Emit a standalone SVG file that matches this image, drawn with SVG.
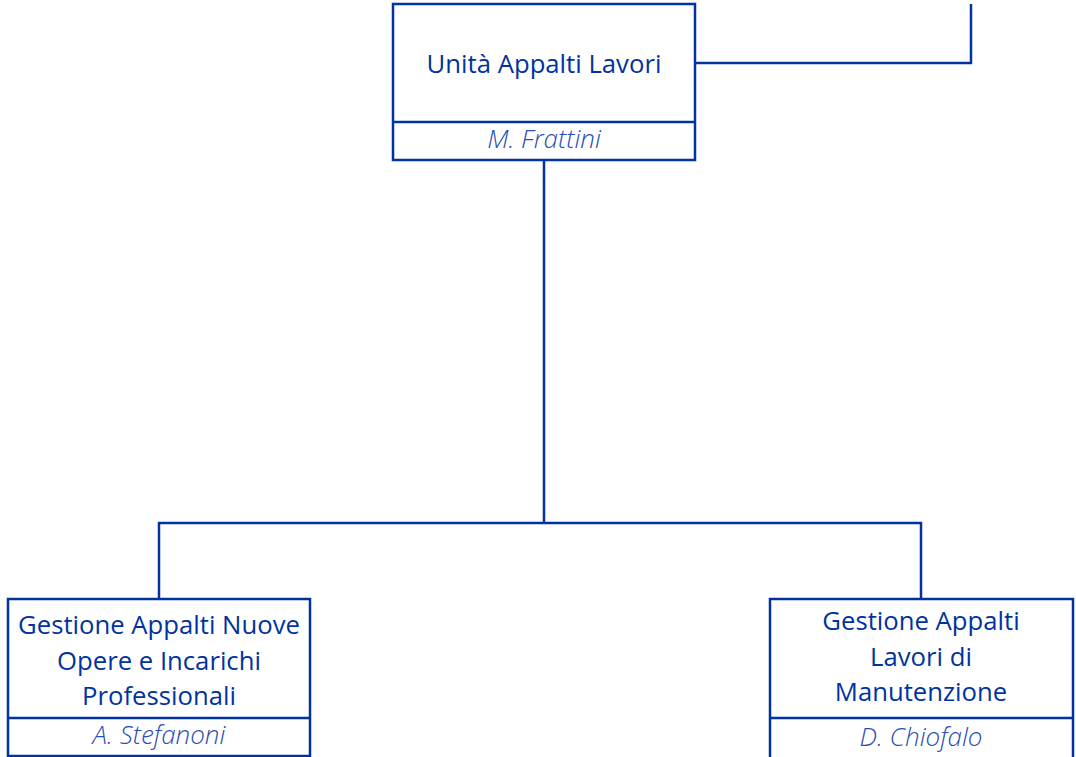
<svg xmlns="http://www.w3.org/2000/svg" width="1076" height="757" viewBox="0 0 1076 757">
<style>
.box{fill:#fff;stroke:#0033a0;stroke-width:2.5}
.conn{fill:none;stroke:#0033a0;stroke-width:2.5}
.t{font-family:"Open Sans","Noto Sans",sans-serif;font-size:25.7px;fill:#0033a0;text-anchor:middle}
.n{font-family:"Open Sans","Noto Sans",sans-serif;font-size:26px;font-style:italic;font-weight:300;fill:#2a4db5;text-anchor:middle}
</style>
<rect width="1076" height="757" fill="#fff"/>
<g id="connectors">
<path class="conn" d="M695 63H971V4"/>
<path class="conn" d="M544 160V523"/>
<path class="conn" d="M159 599V523H921V599"/>
</g>
<g id="node-unita">
<rect class="box" x="393" y="4" width="302" height="156"/>
<line class="conn" x1="393" y1="122" x2="695" y2="122"/>
<text class="t" x="544" y="73">Unità Appalti Lavori</text>
<text class="n" x="544" y="148">M. Frattini</text>
</g>
<g id="node-nuove">
<rect class="box" x="8" y="599" width="302" height="157"/>
<line class="conn" x1="8" y1="718" x2="310" y2="718"/>
<text class="t" x="159" y="634">Gestione Appalti Nuove</text>
<text class="t" x="159" y="670">Opere e Incarichi</text>
<text class="t" x="159" y="705">Professionali</text>
<text class="n" x="159" y="744">A. Stefanoni</text>
</g>
<g id="node-manutenzione">
<rect class="box" x="770" y="599" width="303" height="170"/>
<line class="conn" x1="770" y1="718" x2="1073" y2="718"/>
<text class="t" x="921" y="630">Gestione Appalti</text>
<text class="t" x="921" y="666">Lavori di</text>
<text class="t" x="921" y="701">Manutenzione</text>
<text class="n" x="921" y="746">D. Chiofalo</text>
</g>
</svg>
